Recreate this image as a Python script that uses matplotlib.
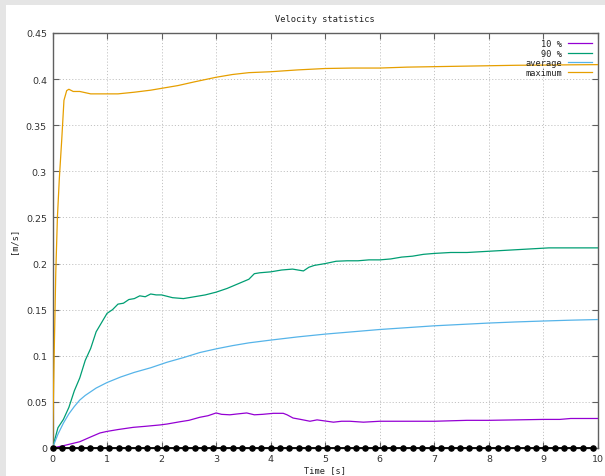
import matplotlib
matplotlib.use("Agg")
import matplotlib.pyplot as plt
from matplotlib.patches import Rectangle

# ---- data -------------------------------------------------------------
t_10 = [0, 0.2, 0.5, 0.7, 0.87, 1.0, 1.2, 1.48, 1.7, 1.97, 2.1, 2.34, 2.5, 2.7, 2.85,
        3.0, 3.1, 3.25, 3.4, 3.56, 3.7, 3.85, 4.05, 4.23, 4.3, 4.41, 4.55, 4.72, 4.85,
        4.96, 5.15, 5.3, 5.45, 5.7, 6.0, 6.5, 7.0, 7.3, 7.6, 8.0, 8.5, 9.0, 9.3, 9.5, 10.0]
v_10 = [0, 0.0025, 0.0068, 0.012, 0.0163, 0.018, 0.020, 0.0224, 0.0235, 0.025, 0.026,
        0.0285, 0.030, 0.0333, 0.035, 0.038, 0.0365, 0.036, 0.037, 0.038, 0.036, 0.0365,
        0.0376, 0.0376, 0.036, 0.0325, 0.031, 0.029, 0.0305, 0.0296, 0.028, 0.029, 0.029,
        0.028, 0.029, 0.029, 0.029, 0.0295, 0.030, 0.030, 0.0305, 0.031, 0.031, 0.032, 0.032]

t_90 = [0, 0.1, 0.2, 0.3, 0.4, 0.5, 0.6, 0.7, 0.8, 0.9, 1.0, 1.1, 1.2, 1.3, 1.4, 1.5, 1.6,
        1.7, 1.8, 1.9, 2.0, 2.2, 2.4, 2.6, 2.8, 3.0, 3.2, 3.4, 3.6, 3.7, 3.8, 4.0, 4.2,
        4.4, 4.6, 4.7, 4.8, 5.0, 5.2, 5.4, 5.6, 5.8, 6.0, 6.2, 6.4, 6.6, 6.8, 7.0, 7.3,
        7.6, 7.9, 8.2, 8.5, 8.8, 9.1, 9.4, 9.7, 10.0]
v_90 = [0, 0.022, 0.031, 0.044, 0.062, 0.076, 0.095, 0.108, 0.126, 0.136, 0.146, 0.150,
        0.156, 0.157, 0.161, 0.162, 0.165, 0.164, 0.167, 0.166, 0.166, 0.163, 0.162, 0.164,
        0.166, 0.169, 0.173, 0.178, 0.183, 0.189, 0.190, 0.191, 0.193, 0.194, 0.192, 0.196,
        0.198, 0.200, 0.2025, 0.203, 0.203, 0.204, 0.204, 0.205, 0.207, 0.208, 0.210,
        0.211, 0.212, 0.212, 0.213, 0.214, 0.215, 0.216, 0.217, 0.217, 0.217, 0.217]

t_avg = [0, 0.1, 0.2, 0.3, 0.4, 0.5, 0.6, 0.8, 1.0, 1.25, 1.5, 1.8, 2.1, 2.4, 2.7, 3.0,
         3.3, 3.6, 4.0, 4.5, 5.0, 5.5, 6.0, 6.5, 7.0, 7.5, 8.0, 8.5, 9.0, 9.5, 10.0]
v_avg = [0, 0.015, 0.027, 0.037, 0.045, 0.052, 0.057, 0.065, 0.071, 0.077, 0.082, 0.087,
         0.093, 0.098, 0.1035, 0.1075, 0.111, 0.114, 0.117, 0.1205, 0.1235, 0.126, 0.1285,
         0.1305, 0.1325, 0.134, 0.1355, 0.1367, 0.1377, 0.1386, 0.1393]

t_max = [0, 0.03, 0.06, 0.09, 0.125, 0.17, 0.21, 0.26, 0.30, 0.38, 0.5, 0.7, 0.9, 1.2,
         1.5, 1.8, 2.0, 2.3, 2.6, 3.0, 3.3, 3.6, 4.0, 4.5, 5.0, 5.5, 6.0, 6.5, 7.0, 7.5,
         8.0, 8.5, 9.0, 9.5, 10.0]
v_max = [0, 0.10, 0.19, 0.25, 0.292, 0.335, 0.377, 0.3875, 0.389, 0.3866, 0.3866, 0.384,
         0.384, 0.384, 0.3858, 0.388, 0.390, 0.393, 0.397, 0.402, 0.405, 0.407, 0.408,
         0.410, 0.4115, 0.412, 0.412, 0.413, 0.4135, 0.414, 0.4145, 0.415, 0.4152,
         0.4155, 0.4157]

# output instants (marked on the zero line)
t_out = [0, 0.17, 0.35, 0.52, 0.69, 0.87, 1.04, 1.22, 1.39, 1.56, 1.74, 1.91, 2.08, 2.26,
         2.43, 2.61, 2.78, 2.95, 3.13, 3.30, 3.47, 3.65, 3.82, 4.00, 4.17, 4.34, 4.52,
         4.69, 4.86, 5.04, 5.21, 5.39, 5.56, 5.73, 5.91, 6.08, 6.25, 6.43, 6.60, 6.78,
         6.95, 7.12, 7.30, 7.47, 7.64, 7.82, 7.99, 8.17, 8.34, 8.51, 8.69, 8.86, 9.03,
         9.21, 9.38, 9.55, 9.73, 9.90]
v_out = [0.0] * len(t_out)

labels = ["10 %", "90 %", "average", "maximum"]
colors = ["#9400d3", "#009e73", "#56b4e9", "#e69f00"]

x_ticks = list(range(0, 11))
y_ticks = [0, 0.05, 0.1, 0.15, 0.2, 0.25, 0.3, 0.35, 0.4, 0.45]
y_tick_labels = ["0", "0.05", "0.1", "0.15", "0.2", "0.25", "0.3", "0.35", "0.4", "0.45"]

# ---- figure -----------------------------------------------------------
W, H = 605, 477
fig = plt.figure(figsize=(W / 100, H / 100), dpi=100, facecolor="white")
fig.patches.append(Rectangle((0, 1 - 6 / H), 1, 6 / H, transform=fig.transFigure,
                             facecolor="#e5e5e5", edgecolor="none", zorder=-10))
fig.patches.append(Rectangle((0, 0), 6 / W, 1, transform=fig.transFigure,
                             facecolor="#e5e5e5", edgecolor="none", zorder=-10))

left, right, top, bottom = 52.5, 598, 34, 449
ax = fig.add_axes([left / W, 1 - bottom / H, (right - left) / W, (bottom - top) / H])

mono = "DejaVu Sans Mono"
series = [(t_10, v_10), (t_90, v_90), (t_avg, v_avg), (t_max, v_max)]
for (t, v), lab, col in zip(series, labels, colors):
    ax.plot(t, v, color=col, lw=0.9, label=lab, zorder=3)

ax.plot(t_out, v_out, color="black", lw=1.3, marker="o", markersize=3.7,
        clip_on=False, zorder=4)

ax.set_xlim(0, 10)
ax.set_ylim(0, 0.45)
ax.set_xticks(x_ticks)
ax.set_xticklabels([str(x) for x in x_ticks])
ax.set_yticks(y_ticks)
ax.set_yticklabels(y_tick_labels)

ax.grid(True, color="#c4c4c4", linestyle=(0, (1.2, 2)), lw=0.7)
ax.set_axisbelow(True)
for s in ax.spines.values():
    s.set_color("#606060")
    s.set_linewidth(1.0)
ax.tick_params(direction="in", length=4.5, width=0.8, color="#606060",
               top=True, right=True, labelsize=6.8, labelcolor="#333333", pad=4)
for lbl in ax.get_xticklabels() + ax.get_yticklabels():
    lbl.set_family("DejaVu Sans")

fig.text((left + right) / 2 / W, 1 - 19 / H, "Velocity statistics", ha="center",
         va="center", fontsize=6.2, family=mono, color="#222222")
fig.text(14 / W, 1 - 241 / H, "[m/s]", ha="center", va="center", rotation=90,
         fontsize=6.2, family=mono, color="#222222")
fig.text((left + right) / 2 / W, 1 - 471 / H, "Time [s]", ha="center", va="center",
         fontsize=6.2, family=mono, color="#222222")

leg = ax.legend(loc="upper right", frameon=False, markerfirst=False,
                prop={"family": mono, "size": 6.2}, handlelength=2.7, handletextpad=0.7,
                labelspacing=0.05, borderaxespad=0.45, borderpad=0.3)
for txt in leg.get_texts():
    txt.set_ha("right")
    txt.set_color("#222222")
leg._legend_box.align = "right"

fig.savefig("out.png", dpi=100, facecolor="white")
